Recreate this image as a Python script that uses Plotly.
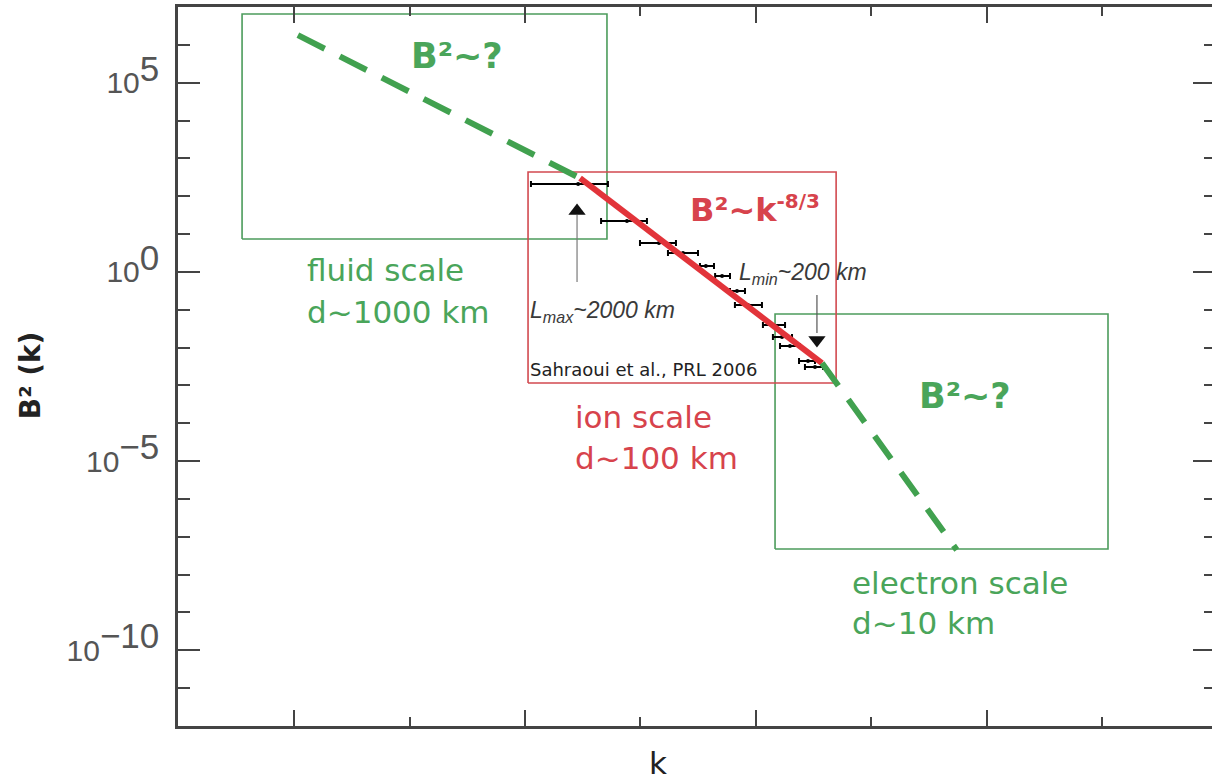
import math
import plotly.graph_objects as go

# Power-law segments of the spectrum (k, B^2)
k_fluid = [1.07e-3, 0.147]
b2_fluid = [1.8e6, 300.0]
k_ion = [0.147, 10.0]
b2_ion = [300.0, 3.9e-3]          # slope -8/3
k_electron = [10.0, 105.0]
b2_electron = [3.9e-3, 4.5e-8]

# Cluster measurements with horizontal error bars
k_meas = [0.142, 0.333, 0.582, 0.885, 1.32, 1.75, 2.27, 2.75, 4.25, 4.98, 5.72, 7.84, 8.85]
k_meas_lo = [0.0624, 0.212, 0.418, 0.681, 1.19, 1.55, 2.01, 2.19, 3.57, 4.25, 4.81, 6.70, 7.43]
k_meas_hi = [0.239, 0.472, 0.783, 1.15, 1.52, 2.01, 2.61, 3.51, 5.25, 5.93, 6.81, 8.85, 10.2]
b2_meas = [210.0, 22.1, 5.79, 3.16, 1.43, 0.778, 0.313, 0.133, 0.0394, 0.0190, 0.0110, 0.00442, 0.00306]

# Scale boxes: k_min, k_max, B2_min, B2_max
box_fluid = [4.04e-4, 0.235, 7.40, 6.53e6]
box_ion = [0.0593, 12.8, 1.16e-3, 436.0]
box_electron = [4.41, 1469.0, 4.75e-8, 0.0771]

# L_max / L_min arrows: k, shaft B2 (tail, end), head B2
arrow_up = [0.1394, 0.541, 31.8, 40.6]
arrow_down = [9.16, 0.245, 0.0243, 0.0158]

# Axis ticks
SUP = "<sup><span style='font-size:35px'>%s</span></sup>"
y_major = [1e-10, 1e-5, 1.0, 1e5]
y_major_text = ["10" + SUP % "\u221210", "10" + SUP % "\u22125",
                "10" + SUP % "0", "10" + SUP % "5"]
y_minor = [1e-11, 1e-9, 1e-8, 1e-7, 1e-6, 1e-4, 1e-3, 1e-2, 1e-1,
           1e1, 1e2, 1e3, 1e4, 1e6]
x_major = [1e-3, 10 ** -1.25, 10 ** 0.5, 10 ** 2.25]
x_minor = [10 ** -2.125, 10 ** -0.375, 10 ** 1.375, 10 ** 3.125]

GREEN = "#41a14f"
GREEN_BOX = "#4c9c5c"
GREEN_TEXT = "#4aa55a"
RED = "#e2343a"
RED_BOX = "#d24a50"
RED_TEXT = "#d7434c"
AXIS = "#444444"

fig = go.Figure()


def box_trace(b, color):
    x0, x1, y0, y1 = b
    return go.Scatter(x=[x0, x1, x1, x0, x0], y=[y0, y0, y1, y1, y0],
                      mode="lines", line=dict(color=color, width=1.6),
                      hoverinfo="skip", showlegend=False)


fig.add_trace(box_trace(box_fluid, GREEN_BOX))
fig.add_trace(box_trace(box_electron, GREEN_BOX))
fig.add_trace(box_trace(box_ion, RED_BOX))

# measured spectrum
fig.add_trace(go.Scatter(
    x=k_meas, y=b2_meas, mode="markers",
    marker=dict(color="black", size=4),
    error_x=dict(type="data", symmetric=False,
                 array=[h - k for h, k in zip(k_meas_hi, k_meas)],
                 arrayminus=[k - l for k, l in zip(k_meas, k_meas_lo)],
                 color="black", thickness=2, width=3),
    hoverinfo="skip", showlegend=False))

# arrow shafts and heads
fig.add_trace(go.Scatter(x=[arrow_up[0]] * 2, y=arrow_up[1:3], mode="lines",
                         line=dict(color="#7a7a7a", width=1.2),
                         hoverinfo="skip", showlegend=False))
fig.add_trace(go.Scatter(x=[arrow_down[0]] * 2, y=arrow_down[1:3], mode="lines",
                         line=dict(color="#555555", width=1.2),
                         hoverinfo="skip", showlegend=False))
fig.add_trace(go.Scatter(x=[arrow_up[0], arrow_down[0]], y=[arrow_up[3], arrow_down[3]],
                         mode="markers",
                         marker=dict(symbol=["triangle-up", "triangle-down"],
                                     size=15, color="#111111", line=dict(width=0)),
                         hoverinfo="skip", showlegend=False))

# spectral segments
fig.add_trace(go.Scatter(x=k_ion, y=b2_ion, mode="lines",
                         line=dict(color=RED, width=6),
                         hoverinfo="skip", showlegend=False))
fig.add_trace(go.Scatter(x=k_fluid, y=b2_fluid, mode="lines",
                         line=dict(color=GREEN, width=6, dash="30px,17px"),
                         hoverinfo="skip", showlegend=False))
fig.add_trace(go.Scatter(x=k_electron, y=b2_electron, mode="lines",
                         line=dict(color=GREEN, width=6, dash="28px,17px"),
                         hoverinfo="skip", showlegend=False))

# carrier for the right-hand tick axis
fig.add_trace(go.Scatter(x=[k_fluid[0]], y=[b2_fluid[0]], yaxis="y2", mode="markers",
                         marker=dict(opacity=0), hoverinfo="skip", showlegend=False))


def ann(text, k, b2, size, color, xanchor="left", italic=False, family="DejaVu Sans"):
    fig.add_annotation(x=math.log10(k), y=math.log10(b2), xref="x", yref="y",
                       text=text, showarrow=False, xanchor=xanchor, yanchor="middle",
                       font=dict(family=family, size=size, color=color,
                                 style="italic" if italic else "normal"))


ann("<b>B\u00b2~?</b>", 10 ** -1.765, 10 ** 5.705, 35, GREEN_TEXT, xanchor="center")
ann("<b>B\u00b2~?</b>", 10 ** 2.083, 10 ** -3.280, 35, GREEN_TEXT, xanchor="center")
ann("<b>B\u00b2~k<sup><span style='font-size:20px'>-8/3</span></sup></b>",
    10 ** -0.015, 10 ** 1.662, 32, RED_TEXT)
ann("fluid scale", 10 ** -2.917, 10 ** 0.050, 31, GREEN_TEXT)
ann("d~1000 km", 10 ** -2.917, 10 ** -1.060, 31, GREEN_TEXT)
ann("ion scale", 10 ** -0.886, 10 ** -3.835, 31, RED_TEXT)
ann("d~100 km", 10 ** -0.886, 10 ** -4.919, 31, RED_TEXT)
ann("electron scale", 10 ** 1.212, 10 ** -8.222, 31, GREEN_TEXT)
ann("d~10 km", 10 ** 1.212, 10 ** -9.279, 31, GREEN_TEXT)
ann("L<sub>max</sub>~2000 km", 10 ** -1.227, 10 ** -1.034, 23, "#3a3a3a",
    italic=True, family="Liberation Sans")
ann("L<sub>min</sub>~200 km", 10 ** 0.356, 10 ** -0.030, 23, "#3a3a3a",
    italic=True, family="Liberation Sans")
ann("Sahraoui et al., PRL 2006", 10 ** -1.227, 10 ** -2.567, 18, "#222222")

# axis titles
fig.add_annotation(x=-0.1431, y=0.488, xref="paper", yref="paper", text="<b>B\u00b2 (k)</b>",
                   textangle=-90, showarrow=False, xanchor="center", yanchor="middle",
                   font=dict(family="DejaVu Sans", size=28, color="#222222"))
fig.add_annotation(x=0.464, y=-0.023, xref="paper", yref="paper", text="k",
                   showarrow=False, xanchor="center", yanchor="top",
                   font=dict(family="DejaVu Sans", size=31, color="#222222"))

fig.update_layout(
    width=1212, height=781,
    margin=dict(l=178, r=0, t=7, b=55),
    paper_bgcolor="white", plot_bgcolor="white",
    showlegend=False,
    xaxis=dict(type="log", range=[-3.879, 3.955], showgrid=False, zeroline=False,
               showline=True, linecolor=AXIS, linewidth=2.5, mirror="ticks",
               tickmode="array", tickvals=x_major, showticklabels=False,
               ticks="inside", ticklen=16, tickwidth=2, tickcolor=AXIS,
               minor=dict(tickmode="array", tickvals=x_minor, ticks="inside",
                          ticklen=9, tickwidth=2, tickcolor=AXIS, showgrid=False)),
    yaxis=dict(type="log", range=[-12, 7], showgrid=False, zeroline=False,
               showline=True, linecolor=AXIS, linewidth=2.5, mirror=False,
               tickmode="array", tickvals=y_major, ticktext=y_major_text,
               ticks="inside", ticklen=22, tickwidth=2, tickcolor=AXIS,
               ticklabelstandoff=10,
               tickfont=dict(family="Liberation Sans", size=30, color="#555555"),
               minor=dict(tickmode="array", tickvals=y_minor, ticks="inside",
                          ticklen=12, tickwidth=2, tickcolor=AXIS, showgrid=False)),
    yaxis2=dict(type="log", range=[-12, 7], overlaying="y", side="right",
                showgrid=False, zeroline=False, showline=False, showticklabels=False,
                tickmode="array", tickvals=y_major, ticks="inside", ticklen=19,
                tickwidth=2, tickcolor=AXIS,
                minor=dict(tickmode="array", tickvals=y_minor, ticks="inside",
                           ticklen=8, tickwidth=2, tickcolor=AXIS, showgrid=False)),
)

fig.write_html("out.html")
